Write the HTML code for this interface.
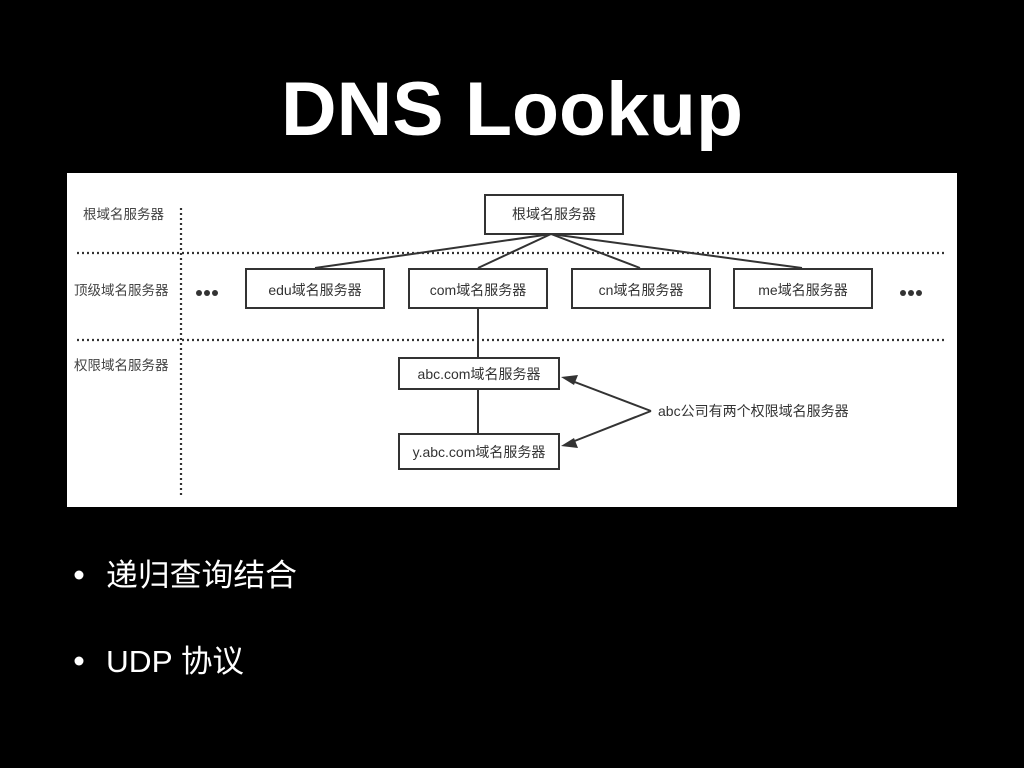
<!DOCTYPE html>
<html><head><meta charset="utf-8"><style>
html,body{margin:0;padding:0;background:#000;width:1024px;height:768px;overflow:hidden}
svg{display:block}
</style></head><body>
<svg width="1024" height="768" viewBox="0 0 1024 768" xmlns="http://www.w3.org/2000/svg">
<rect width="1024" height="768" fill="#000"/>
<text x="512" y="135" text-anchor="middle" fill="#fff" font-family="Liberation Sans, sans-serif" font-weight="bold" font-size="76" textLength="462" lengthAdjust="spacingAndGlyphs">DNS Lookup</text>
<rect x="67" y="173" width="890" height="334" fill="#fff"/>
<g stroke="#333" stroke-width="2.2" stroke-dasharray="2,3" fill="none">
<line x1="77" y1="253" x2="946" y2="253"/>
<line x1="77" y1="340" x2="946" y2="340"/>
<line x1="181" y1="208" x2="181" y2="495"/>
</g>
<g font-family="Liberation Sans, 'Noto Sans CJK SC', sans-serif" font-size="13.5" fill="#444">
<text x="83" y="219">根域名服务器</text>
<text x="74" y="295">顶级域名服务器</text>
<text x="74" y="370">权限域名服务器</text>
</g>
<g fill="#333">
<circle cx="199" cy="293" r="3"/><circle cx="207" cy="293" r="3"/><circle cx="215" cy="293" r="3"/>
<circle cx="903" cy="293" r="3"/><circle cx="911" cy="293" r="3"/><circle cx="919" cy="293" r="3"/>
</g>
<g stroke="#333" stroke-width="2" fill="none">
<line x1="551" y1="234" x2="315" y2="268"/>
<line x1="551" y1="234" x2="478" y2="268"/>
<line x1="551" y1="234" x2="640" y2="268"/>
<line x1="551" y1="234" x2="802" y2="268"/>
<line x1="478" y1="308" x2="478" y2="358"/>
<line x1="478" y1="389" x2="478" y2="434"/>
<line x1="651" y1="411" x2="572" y2="381"/>
<line x1="651" y1="411" x2="572" y2="442"/>
<rect x="485" y="195" width="138" height="39"/>
<rect x="246" y="269" width="138" height="39"/>
<rect x="409" y="269" width="138" height="39"/>
<rect x="572" y="269" width="138" height="39"/>
<rect x="734" y="269" width="138" height="39"/>
<rect x="399" y="358" width="160" height="31"/>
<rect x="399" y="434" width="160" height="35"/>
</g>
<polygon points="561,377 578,375 574,385" fill="#333"/>
<polygon points="561,446 574,438 578,448" fill="#333"/>
<g font-family="Liberation Sans, 'Noto Sans CJK SC', sans-serif" font-size="14" fill="#333" text-anchor="middle">
<text x="554" y="219">根域名服务器</text>
<text x="315" y="295">edu域名服务器</text>
<text x="478" y="295">com域名服务器</text>
<text x="641" y="295">cn域名服务器</text>
<text x="803" y="295">me域名服务器</text>
<text x="479" y="379">abc.com域名服务器</text>
<text x="479" y="457">y.abc.com域名服务器</text>
<text x="658" y="416" text-anchor="start">abc公司有两个权限域名服务器</text>
</g>
<g fill="#fff" font-family="Liberation Sans, 'Noto Sans CJK SC', sans-serif" font-size="31">
<circle cx="79" cy="575" r="4.5"/>
<circle cx="79" cy="661" r="4.5"/>
<text x="106" y="586" textLength="191" lengthAdjust="spacingAndGlyphs">递归查询结合</text>
<text x="106" y="672" textLength="138" lengthAdjust="spacingAndGlyphs">UDP 协议</text>
</g>
</svg>
</body></html>
